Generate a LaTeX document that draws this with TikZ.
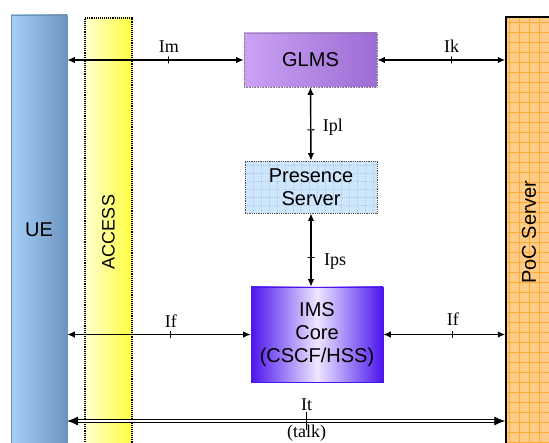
\documentclass[tikz,border=0pt]{standalone}
\usepackage{fontspec}
\setmainfont{Liberation Sans}
\newfontfamily\labfont{Liberation Serif}
\usetikzlibrary{arrows.meta,shadings,positioning}
\definecolor{ueA}{HTML}{A6D0F8}
\definecolor{ueB}{HTML}{6C94BF}
\definecolor{uedge}{HTML}{7090B0}
\definecolor{accA}{HTML}{FFFFD0}
\definecolor{accB}{HTML}{FFFF40}
\definecolor{pocfill}{HTML}{FFCC88}
\definecolor{pocgrid}{HTML}{FFAA33}
\definecolor{glmsA}{HTML}{CBA2F4}
\definecolor{glmsB}{HTML}{9C6CD4}
\definecolor{presfill}{HTML}{CFE6FB}
\definecolor{presgrid}{HTML}{A8CCF2}
\definecolor{imsEdge}{HTML}{4C14EE}
\definecolor{imsMid}{HTML}{EDE6FF}
\begin{document}
\begin{tikzpicture}[x=1pt,y=-1pt,
  box/.style={inner sep=0pt, align=center, font=\fontsize{20}{23}\selectfont},
  conn/.style={line width=1.4pt, {Latex[length=7.5pt,width=6.5pt]}-{Latex[length=7.5pt,width=6.5pt]}},
  tickmark/.style={draw, line width=1.1pt, minimum width=0pt, minimum height=7pt, inner sep=0pt, sloped},
  lab/.style={font=\labfont\fontsize{18}{20}\selectfont, inner sep=0pt}
]
\useasboundingbox (0,0) rectangle (549,443);
% side columns
\node[box, draw=uedge, line width=0.6pt, left color=ueA, right color=ueB,
      minimum width=56pt, minimum height=430pt] (ue) at (39,230) {UE};
\node[draw=black, densely dotted, line width=1.1pt, left color=accA, right color=accB,
      minimum width=47pt, minimum height=428pt, inner sep=0pt,
      label={[rotate=90, font=\fontsize{18}{20}\selectfont]center:ACCESS}] (acc) at (108.5,232) {};
\node[draw=black, line width=1.5pt, fill=pocfill, minimum width=46pt, minimum height=430pt, inner sep=0pt,
      path picture={\draw[pocgrid, line width=0.5pt] (path picture bounding box.south west) grid[step=10pt] (path picture bounding box.north east);},
      label={[rotate=90, font=\fontsize{20}{24}\selectfont]center:PoC Server}] (poc) at (529,232) {};
% central boxes
\node[box, draw=gray, densely dotted, line width=0.6pt, left color=glmsA, right color=glmsB,
      minimum width=133pt, minimum height=54pt] (glms) at (310.5,60) {GLMS};
\node[box, draw=black!70, densely dotted, line width=0.8pt, fill=presfill,
      minimum width=132pt, minimum height=52pt,
      path picture={\draw[presgrid, line width=0.5pt] (path picture bounding box.south west) grid[step=8pt] (path picture bounding box.north east);}] (pres) at (311,187) {Presence\\Server};
\node[box, draw=imsEdge, line width=0.6pt, left color=imsEdge, right color=imsEdge, middle color=imsMid,
      minimum width=132pt, minimum height=95pt] (ims) at (317,334.5) {IMS\\Core\\(CSCF/HSS)};
% connectors
\coordinate (itl) at (67,421);
\draw[conn] (ue.east |- glms.west) -- node[tickmark, pos=0.576] (tim) {} (glms.west);
\node[lab, above=7pt of tim.center] {Im};
\draw[conn] (glms.east) -- node[tickmark, pos=0.58] (tik) {} (poc.west |- glms.east);
\node[lab, above=7pt of tik.center] {Ik};
\draw[conn] (glms.south) -- node[tickmark, pos=0.58] (tipl) {} (pres.north);
\node[lab, right=12pt of tipl.center, yshift=3pt] {Ipl};
\draw[conn] (pres.south) -- node[tickmark, pos=0.6] (tips) {} (pres.south |- ims.north);
\node[lab, right=13pt of tips.center, yshift=-4pt] {Ips};
\draw[conn] (ue.east |- ims.west) -- node[tickmark, pos=0.565] (tifl) {} (ims.west);
\node[lab, above=7pt of tifl.center] {If};
\draw[conn] (ims.east) -- node[tickmark, pos=0.57] (tifr) {} (poc.west |- ims.east);
\node[lab, above=9pt of tifr.center] {If};
\draw[double, double distance=1.4pt, line width=0.9pt, {Latex[length=11pt,width=9pt]}-{Latex[length=11pt,width=9pt]}]
  (itl) -- node[tickmark, pos=0.547, minimum height=18pt, line width=1.4pt] (tit) {} (poc.west |- itl);
\node[lab, above=10pt of tit.center] {It};
\node[lab, below=4pt of tit.center] {(talk)};
\end{tikzpicture}
\end{document}
